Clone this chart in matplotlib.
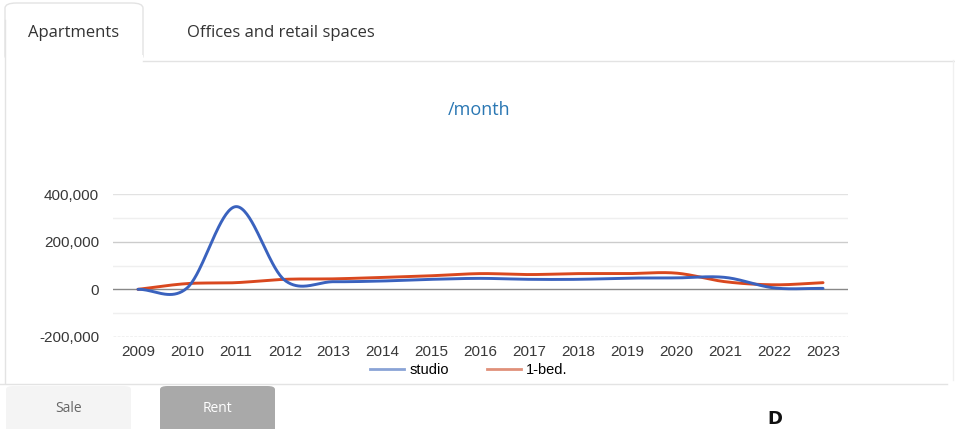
import numpy as np
import matplotlib
matplotlib.use("Agg")
import matplotlib.pyplot as plt
from matplotlib.patches import FancyBboxPatch, Rectangle
from matplotlib.lines import Line2D
from matplotlib import font_manager

years = [2009, 2010, 2011, 2012, 2013, 2014, 2015, 2016, 2017, 2018, 2019, 2020, 2021, 2022, 2023]
studio = [0, 5000, 347000, 38000, 32000, 35000, 42000, 46000, 42000, 42000, 47000, 48000, 50000, 6000, 4000]
one_bed = [0, 24000, 28000, 42000, 44000, 50000, 57000, 66000, 62000, 66000, 66000, 68000, 32000, 19000, 28000]
series_names = ["studio", "1-bed."]
y_ticks = [-200000, 0, 200000, 400000]
title_text = "/month"
tab_labels = ["Apartments", "Offices and retail spaces"]
button_labels = ["Sale", "Rent"]

names = {f.name for f in font_manager.fontManager.ttflist}
arial = "Liberation Sans" if "Liberation Sans" in names else "DejaVu Sans"
ui_font = "Open Sans" if "Open Sans" in names else "DejaVu Sans"


def catmull(x, y, n=40):
    x = np.asarray(x, float)
    y = np.asarray(y, float)
    m = np.zeros_like(y)
    m[1:-1] = (y[2:] - y[:-2]) / (x[2:] - x[:-2])
    m[0] = (y[1] - y[0]) / (x[1] - x[0])
    m[-1] = (y[-1] - y[-2]) / (x[-1] - x[-2])
    xs, ys = [], []
    for i in range(len(x) - 1):
        h = x[i + 1] - x[i]
        t = np.linspace(0, 1, n, endpoint=False)
        h00 = 2 * t**3 - 3 * t**2 + 1
        h10 = t**3 - 2 * t**2 + t
        h01 = -2 * t**3 + 3 * t**2
        h11 = t**3 - t**2
        xs.append(x[i] + t * h)
        ys.append(h00 * y[i] + h10 * h * m[i] + h01 * y[i + 1] + h11 * h * m[i + 1])
    xs.append([x[-1]])
    ys.append([y[-1]])
    return np.concatenate(xs), np.concatenate(ys)


W, H = 955, 429
fig = plt.figure(figsize=(W / 100, H / 100), dpi=100)
fig.patch.set_facecolor("white")


def fx(px):
    return px / W


def fy(py):
    return 1 - py / H


# UI frame lines
fig.add_artist(Line2D([fx(143), fx(955)], [fy(60.5), fy(60.5)], color="#e3e3e3", lw=1))
fig.add_artist(Line2D([fx(4.5), fx(4.5)], [fy(20), fy(383)], color="#e3e3e3", lw=1))
fig.add_artist(Line2D([fx(953), fx(953)], [fy(60), fy(380)], color="#f0f0f0", lw=1))
fig.add_artist(Line2D([fx(0), fx(947)], [fy(383.5), fy(383.5)], color="#e3e3e3", lw=1))
# active tab
tab = FancyBboxPatch((fx(5), fy(61)), fx(138), fy(3) - fy(61),
                     boxstyle="round,pad=0,rounding_size=0.012",
                     transform=fig.transFigure, facecolor="white", edgecolor="#e3e3e3", lw=1)
fig.add_artist(tab)
fig.add_artist(Rectangle((fx(5.5), fy(66)), fx(137), fy(55) - fy(66),
                         transform=fig.transFigure, facecolor="white", edgecolor="none"))
fig.text(fx(74), fy(33), tab_labels[0], ha="center", va="center", fontsize=12,
         color="#333333", family=ui_font)
fig.text(fx(281), fy(33), tab_labels[1], ha="center", va="center", fontsize=12,
         color="#333333", family=ui_font)

# buttons
fig.add_artist(FancyBboxPatch((fx(6), fy(440)), fx(125), fy(386) - fy(440),
                              boxstyle="round,pad=0,rounding_size=0.008",
                              transform=fig.transFigure, facecolor="#f4f4f4", edgecolor="none"))
fig.add_artist(FancyBboxPatch((fx(160), fy(440)), fx(115), fy(386) - fy(440),
                              boxstyle="round,pad=0,rounding_size=0.008",
                              transform=fig.transFigure, facecolor="#a9a9a9", edgecolor="none"))
fig.text(fx(69), fy(408), button_labels[0], ha="center", va="center", fontsize=10,
         color="#666666", family=ui_font)
fig.text(fx(217), fy(408), button_labels[1], ha="center", va="center", fontsize=10,
         color="white", family=ui_font)
fig.text(fx(767), fy(428), "D", ha="left", va="bottom", fontsize=13, fontweight="bold",
         color="#111111", family="DejaVu Sans")

# title
fig.text(fx(479), fy(110), title_text, ha="center", va="center", fontsize=13,
         color="#2a77b3", family=ui_font)

# chart
ax = fig.add_axes([fx(113), fy(337), fx(848) - fx(113), fy(194) - fy(337)])
ax.set_xlim(2008.49, 2023.51)
ax.set_ylim(-200000, 400000)
for v in [-100000, 100000, 300000]:
    ax.axhline(v, color="#efefef", lw=1, zorder=0)
ax.axhline(400000, color="#e2e2e2", lw=1, zorder=0)
ax.axhline(200000, color="#cccccc", lw=1, zorder=0)
ax.axhline(-200000, color="#bbbbbb", lw=1, ls=(0, (2, 1)), zorder=0)
ax.axhline(0, color="#888888", lw=1, zorder=1)

xs, ys = catmull(years, studio)
ax.plot(xs, ys, color="#3a62be", lw=2.1, zorder=3, solid_capstyle="round")
xs, ys = catmull(years, one_bed)
ax.plot(xs, ys, color="#d9481f", lw=2.1, zorder=2, solid_capstyle="round")

for s in ax.spines.values():
    s.set_visible(False)
ax.set_xticks(years)
ax.set_xticklabels([str(y) for y in years])
ax.set_yticks(y_ticks)
ax.set_yticklabels([f"{v:,}" for v in y_ticks])
ax.tick_params(length=0, labelsize=11, colors="#383838")
ax.tick_params(axis="y", pad=10)
ax.tick_params(axis="x", pad=6)
for lab in ax.get_xticklabels() + ax.get_yticklabels():
    lab.set_family(arial)

handles = [Line2D([], [], color="#8aa3d6", lw=2), Line2D([], [], color="#e0907a", lw=2)]
fig.legend(handles, series_names, loc="center", bbox_to_anchor=(fx(469), fy(370)), ncol=2,
           frameon=False, handlelength=2.3, handletextpad=0.4, columnspacing=2.6,
           prop={"family": arial, "size": 10.5})

fig.savefig("out.png", dpi=100, facecolor="white")
